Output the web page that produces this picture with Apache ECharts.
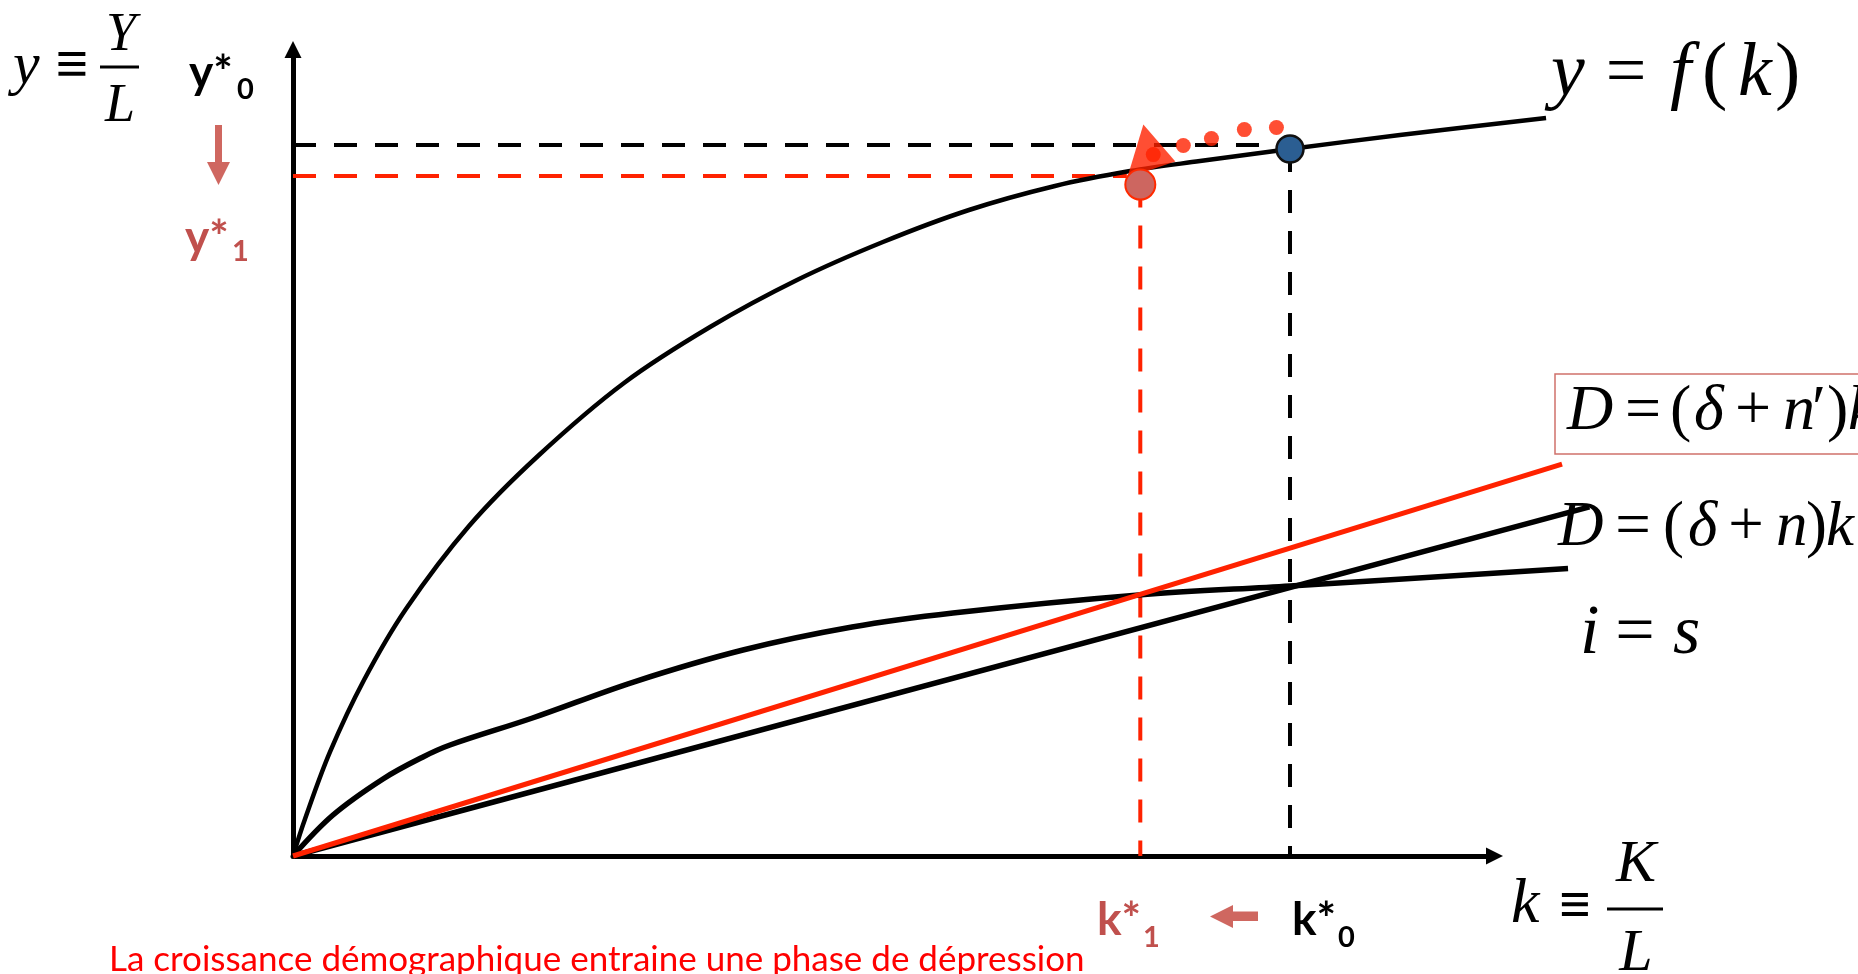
<!DOCTYPE html>
<html>
<head>
<meta charset="utf-8">
<script src="https://cdn.jsdelivr.net/npm/echarts@6.0.0/dist/echarts.min.js"></script>
<style>
html,body{margin:0;padding:0;background:#fff;}
#chart{width:1858px;height:974px;}
</style>
</head>
<body>
<div id="chart"></div>
<script>
// ---- data (k on x, y on y) ----
const productionCurve = [[0,0],[1.0,4.59],[3.08,12.9],[5.91,21.82],[9.40,30.63],[14.65,40.92],[20.39,49.6],[27.55,58.65],[34.71,65.59],[41.95,71.42],[49.1,76.13],[56.26,80.1],[63.42,83.08],[69.66,84.93],[75.49,86.17],[82.98,87.66],[92.13,89.4],[104.29,91.51]];
const savingCurve = [[0,0],[3.33,5.08],[7.49,9.55],[10.82,12.28],[13.07,13.76],[19.93,17.11],[28.34,21.57],[37.45,25.54],[46.53,28.39],[54.93,30.13],[70.38,32.36],[82.98,33.48],[106.12,35.65]];
const depreciationNew = [[0,0],[105.62,48.6]];
const depreciationOld = [[0,0],[107.9,43.3]];
const kStar0 = 82.98, yStar0 = 88.16, yDot0 = 87.66;
const kStar1 = 70.52, yStar1 = 84.31, yDot1 = 83.25, kDash1End = 69.4;
const transitionDots = [[71.6,86.97],[74.1,88.09],[76.44,88.96],[79.18,90.07],[81.85,90.32]];
const arrowHeadPoint = [[71.44,87.41]];

const SERIF = '"Liberation Serif","Times New Roman",serif';
const SANS = 'Lato,"Noto Sans",sans-serif';
const RED = '#ff2200';
const PINK = '#c0504d';
const ARROW = '#cf6760';

function t(text, x, y, size, o) {
  o = o || {};
  const font = (o.italic ? 'italic ' : '') + (o.bold ? 'bold ' : '') + size + 'px ' + (o.font || SERIF);
  const al = o.align || 'left';
  return { type: 'text', x: x, y: y, z: 100, silent: true,
    style: { text: text, font: font, fill: o.color || '#000', align: al, verticalAlign: 'middle', textAlign: al, textVerticalAlign: 'middle' } };
}

const graphics = [
  // y ≡ Y/L
  t('y', 13, 67, 60, {italic: true}),
  t('≡', 72, 68, 58, {align: 'center', bold: true}),
  t('Y', 121, 35.5, 54, {italic: true, align: 'center'}),
  {type: 'rect', z: 100, silent: true, shape: {x: 100, y: 65.5, width: 39, height: 3}, style: {fill: '#000'}},
  t('L', 120, 106.5, 54, {italic: true, align: 'center'}),
  // y*0 / y*1
  t('y*', 189, 73, 46, {bold: true, font: SANS}),
  t('0', 237, 89.5, 29, {bold: true, font: SANS}),
  {type: 'polygon', z: 100, silent: true, shape: {points: [[215,125],[222,125],[222,162],[230,162],[218.5,185],[207,162],[215,162]]}, style: {fill: ARROW}},
  t('y*', 185, 238, 46, {bold: true, font: SANS, color: PINK}),
  t('1', 232, 251.5, 29, {bold: true, font: SANS, color: PINK}),
  // y = f(k)
  t('y', 1551, 75, 76, {italic: true}),
  t('=', 1626, 75, 72, {align: 'center'}),
  t('f', 1670, 75, 76, {italic: true}),
  t('(', 1702, 75, 76),
  t('k', 1738, 75, 76, {italic: true}),
  t(')', 1775, 75, 76),
  // D = (δ + n')k  (boxed)
  {type: 'rect', z: 100, silent: true, shape: {x: 1555, y: 374, width: 330, height: 80}, style: {fill: 'none', stroke: '#d0716b', lineWidth: 1.5}},
  t('D', 1567, 412, 64, {italic: true}),
  t('=', 1643, 412, 64, {align: 'center'}),
  t('(', 1670, 412, 64),
  t('δ', 1694, 412, 64, {italic: true}),
  t('+', 1753, 412, 64, {align: 'center'}),
  t('n', 1783, 412, 64, {italic: true}),
  t('′', 1812, 412, 64),
  t(')', 1827, 412, 64),
  t('k', 1848, 412, 64, {italic: true}),
  // D = (δ + n)k
  t('D', 1558, 528, 63, {italic: true}),
  t('=', 1633, 528, 63, {align: 'center'}),
  t('(', 1663, 528, 63),
  t('δ', 1688, 528, 63, {italic: true}),
  t('+', 1746, 528, 63, {align: 'center'}),
  t('n', 1776, 528, 63, {italic: true}),
  t(')', 1806, 528, 63),
  t('k', 1826, 528, 63, {italic: true}),
  // i = s
  t('i', 1580, 635, 70, {italic: true}),
  t('=', 1635, 635, 70, {align: 'center'}),
  t('s', 1673, 635, 70, {italic: true}),
  // k ≡ K/L
  t('k', 1511, 905, 64, {italic: true}),
  t('≡', 1575, 909, 56, {align: 'center', bold: true}),
  t('K', 1636, 865, 60, {italic: true, align: 'center'}),
  {type: 'rect', z: 100, silent: true, shape: {x: 1607, y: 907.5, width: 56, height: 3}, style: {fill: '#000'}},
  t('L', 1636, 954, 60, {italic: true, align: 'center'}),
  // k*1 <- k*0
  t('k*', 1097, 920, 46, {bold: true, font: SANS, color: PINK}),
  t('1', 1143, 937.5, 29, {bold: true, font: SANS, color: PINK}),
  {type: 'polygon', z: 100, silent: true, shape: {points: [[1258,911.5],[1233,911.5],[1233,905],[1210,916.5],[1233,928],[1233,921],[1258,921]]}, style: {fill: ARROW}},
  t('k*', 1292, 920, 46, {bold: true, font: SANS}),
  t('0', 1338, 937.5, 29, {bold: true, font: SANS}),
  // caption
  t('La croissance démographique entraine une phase de dépression', 109, 960, 35, {font: SANS, color: '#ff0000'})
];

function lineSeries(data, color, width, dash, z) {
  return { type: 'line', xAxisIndex: 1, yAxisIndex: 1, data: data, showSymbol: false, symbol: 'none', clip: false, silent: true, z: z || 2,
    smooth: false, lineStyle: { color: color, width: width, type: dash || 'solid', cap: 'butt' } };
}
function dotSeries(data, extra) {
  return Object.assign({ type: 'scatter', xAxisIndex: 1, yAxisIndex: 1, data: data, silent: true, clip: false }, extra);
}

const hiddenAxis = { axisLine: { show: false }, axisTick: { show: false }, axisLabel: { show: false }, splitLine: { show: false } };
const arrowAxis = {
  axisLine: { show: true, onZero: false, symbol: ['none', 'triangle'], symbolSize: [17, 17], lineStyle: { color: '#000', width: 5 } },
  axisTick: { show: false }, axisLabel: { show: false }, splitLine: { show: false }
};

const chart = echarts.init(document.getElementById('chart'), null, {renderer: 'canvas'});
chart.setOption({
  animation: false,
  backgroundColor: '#fff',
  grid: [
    { left: 293, right: 363.5, top: 49.5, bottom: 118 },
    { left: 293, right: 243.35, top: 49.5, bottom: 118 }
  ],
  xAxis: [
    Object.assign({ type: 'value', gridIndex: 0, min: 0, max: 100 }, arrowAxis),
    Object.assign({ type: 'value', gridIndex: 1, min: 0, max: 110 }, hiddenAxis)
  ],
  yAxis: [
    Object.assign({ type: 'value', gridIndex: 0, min: 0, max: 100 }, arrowAxis),
    Object.assign({ type: 'value', gridIndex: 1, min: 0, max: 100 }, hiddenAxis)
  ],
  series: [
    lineSeries([[0, yStar1], [kDash1End, yStar1]], RED, 4, [23, 18], 2),
    lineSeries([[kStar1, yDot1], [kStar1, 0]], RED, 4, [23, 18], 2),
    lineSeries([[0, yStar0], [kStar0, yStar0]], '#000', 4, [23, 18], 2),
    lineSeries([[kStar0, yDot0], [kStar0, 0]], '#000', 4, [23, 18], 2),
    Object.assign(lineSeries(productionCurve, '#000', 4.5, 'solid', 3), { smooth: 0.35 }),
    Object.assign(lineSeries(savingCurve, '#000', 5.5, 'solid', 3), { smooth: 0.35 }),
    lineSeries(depreciationOld, '#000', 5.5, 'solid', 3),
    lineSeries(depreciationNew, RED, 5, 'solid', 4),
    dotSeries(transitionDots, { symbol: 'circle', symbolSize: 15, z: 5, itemStyle: { color: RED } }),
    dotSeries(arrowHeadPoint, { symbol: 'path://M16,0 L0,53 L48,37 Z', symbolSize: [48, 53], z: 5, itemStyle: { color: RED } }),
    dotSeries([[kStar1, yDot1]], { symbolSize: 30, z: 6, itemStyle: { color: '#cd6660', borderColor: '#ff2a00', borderWidth: 2, opacity: 1 } }),
    dotSeries([[kStar0, yDot0]], { symbolSize: 27, z: 6, itemStyle: { color: '#2b5e92', borderColor: '#111', borderWidth: 2.5, opacity: 1 } })
  ],
  graphic: graphics
});
</script>
</body>
</html>
